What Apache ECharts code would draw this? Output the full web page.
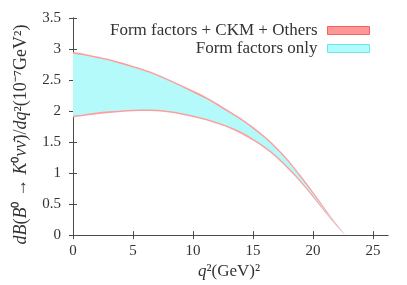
<!DOCTYPE html>
<html>
<head>
<meta charset="utf-8">
<script src="https://cdn.jsdelivr.net/npm/echarts@6/dist/echarts.min.js"></script>
<style>
html,body{margin:0;padding:0;background:#fff;}
#chart{width:407px;height:285px;}
</style>
</head>
<body>
<div id="chart"></div>
<script>
// q^2 sample points (GeV^2)
const q2 = [0,1,2,3,4,5,6,7,8,9,10,11,12,13,14,15,16,17,18,19,20,21,22,22.7];
// Form factors + CKM + Others (outer band)
const allUpper = [2.95,2.92,2.88,2.84,2.785,2.725,2.665,2.595,2.51,2.42,2.33,2.235,2.125,2.005,1.885,1.745,1.59,1.41,1.20,0.955,0.70,0.43,0.17,0];
const allLower = [1.90,1.925,1.95,1.97,1.985,1.995,2.0,1.995,1.975,1.945,1.905,1.855,1.795,1.725,1.635,1.525,1.395,1.24,1.05,0.84,0.61,0.37,0.14,0];
// Form factors only (inner band)
const ffUpper = [2.925,2.895,2.855,2.815,2.76,2.70,2.64,2.57,2.485,2.395,2.30,2.205,2.095,1.975,1.855,1.715,1.56,1.375,1.165,0.92,0.665,0.405,0.16,0];
const ffLower = [1.925,1.95,1.975,1.995,2.01,2.02,2.025,2.02,2.0,1.97,1.93,1.88,1.82,1.75,1.665,1.555,1.425,1.27,1.08,0.87,0.64,0.39,0.15,0];
// tick labels
const xTicks = [0,5,10,15,20,25];
const yTicks = [0,0.5,1,1.5,2,2.5,3,3.5];

const nameAll = 'Form factors + CKM + Others';
const nameFF = 'Form factors only';
const pink = '#ff9c9c';
const cyan = '#b4fafa';
const FONT = 'Liberation Serif';

// Catmull-Rom -> cubic bezier path segments through pixel points
function curveThrough(P){
  let d = '';
  for (let i = 0; i < P.length - 1; i++){
    const p0 = P[i-1] || P[i], p1 = P[i], p2 = P[i+1], p3 = P[i+2] || P[i+1];
    const c1x = p1[0] + (p2[0]-p0[0])/6, c1y = p1[1] + (p2[1]-p0[1])/6;
    const c2x = p2[0] - (p3[0]-p1[0])/6, c2y = p2[1] - (p3[1]-p1[1])/6;
    d += ' C' + c1x + ' ' + c1y + ' ' + c2x + ' ' + c2y + ' ' + p2[0] + ' ' + p2[1];
  }
  return d;
}

function band(name, lo, hi, color){
  return {
    type:'custom', name:name, coordinateSystem:'cartesian2d',
    xAxisIndex:0, yAxisIndex:0, clip:true, silent:true,
    itemStyle:{color:color},
    data:[[q2[0], hi[0]]],
    renderItem:function(params, api){
      const U = q2.map((x,i)=>api.coord([x, hi[i]]));
      const L = q2.map((x,i)=>api.coord([x, lo[i]])).reverse();
      const d = 'M' + U[0][0] + ' ' + U[0][1] + curveThrough(U) +
                ' L' + L[0][0] + ' ' + L[0][1] + curveThrough(L) + ' Z';
      return {type:'path', shape:{pathData:d}, style:{fill:color, stroke:null}};
    }
  };
}

const axisColor = '#4a4a4a';
const labelStyle = {fontFamily:FONT, fontSize:15, color:'#333'};
const nameRich = {i:{fontFamily:FONT, fontStyle:'italic', fontSize:18, color:'#333'}};

const chart = echarts.init(document.getElementById('chart'), null, {renderer:'canvas'});
chart.setOption({
  animation:false,
  grid:{left:70, right:19, top:18, bottom:43, containLabel:false},
  legend:{
    orient:'vertical', right:37, top:22, align:'right', padding:0,
    itemWidth:42, itemHeight:8, itemGap:1,
    textStyle:{fontFamily:FONT, fontSize:17, lineHeight:15, color:'#333', padding:[0,5,0,0]},
    data:[
      {name:nameAll, icon:'rect', itemStyle:{color:'#ff9797', borderColor:'#f06464', borderWidth:1}},
      {name:nameFF, icon:'rect', itemStyle:{color:'#b0fbfb', borderColor:'#6fe6e6', borderWidth:1}}
    ]
  },
  xAxis:[
    {type:'value', min:-0.25, max:26.25, position:'bottom',
     name:'{i|q}²(GeV)²', nameLocation:'middle', nameGap:25,
     nameTextStyle:{fontFamily:FONT, fontSize:17, color:'#333', rich:{i:{fontFamily:FONT, fontStyle:'italic', fontSize:17, color:'#333'}}},
     axisLine:{show:true, lineStyle:{color:axisColor, width:1}},
     axisTick:{show:true, inside:true, length:4, customValues:xTicks, lineStyle:{color:axisColor}},
     axisLabel:{show:true, customValues:xTicks, margin:8, ...labelStyle},
     splitLine:{show:false}},
    {type:'value', min:-0.25, max:26.25, position:'top',
     axisLine:{show:true, lineStyle:{color:axisColor, width:1}},
     axisTick:{show:true, inside:true, length:4, customValues:xTicks, lineStyle:{color:axisColor}},
     axisLabel:{show:false}, splitLine:{show:false}}
  ],
  yAxis:[
    {type:'value', min:0, max:3.5, interval:0.5, position:'left',
     name:'{i|dB}({i|B}⁰ → {i|K}⁰{i|νν̄})/{i|dq}²(10⁻⁷GeV²)',
     nameLocation:'middle', nameGap:40, nameRotate:90,
     nameTextStyle:{fontFamily:FONT, fontSize:18, color:'#333', rich:nameRich, padding:[0,16,0,0]},
     axisLine:{show:true, lineStyle:{color:axisColor, width:1}},
     axisTick:{show:true, inside:true, length:4, customValues:yTicks, lineStyle:{color:axisColor}},
     axisLabel:{show:true, customValues:yTicks, margin:9, formatter:v=>String(v), ...labelStyle},
     splitLine:{show:false}},
    {type:'value', min:0, max:3.5, interval:0.5, position:'right',
     axisLine:{show:true, lineStyle:{color:axisColor, width:1}},
     axisTick:{show:true, inside:true, length:4, customValues:yTicks, lineStyle:{color:axisColor}},
     axisLabel:{show:false}, splitLine:{show:false}}
  ],
  series:[
    band(nameAll, allLower, allUpper, pink),
    band(nameFF, ffLower, ffUpper, cyan)
  ]
});
</script>
</body>
</html>
